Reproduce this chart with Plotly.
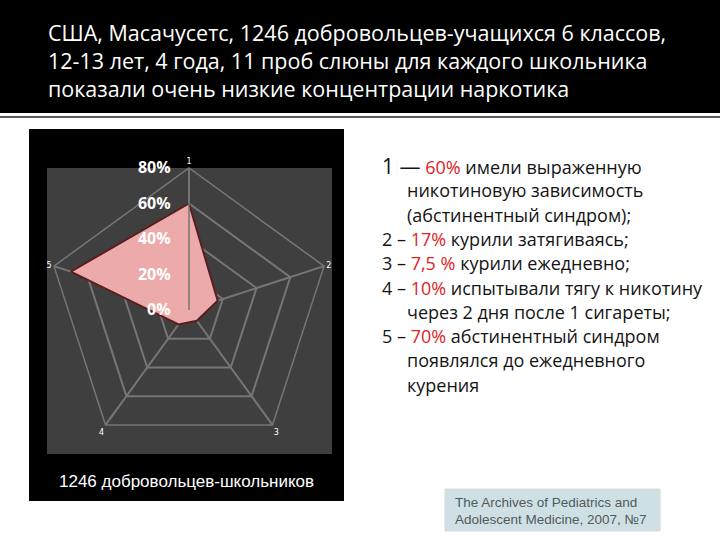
import plotly.graph_objects as go

# ---- data ----
categories = ["1", "2", "3", "4", "5"]
values = [60, 17, 7.5, 10, 70]
radial_ticks = [0, 20, 40, 60, 80]
value_labels = ["60%", "17%", "7,5 %", "10%", "70%"]

title_lines = [
    "США, Масачусетс, 1246 добровольцев-учащихся 6 классов,",
    "12-13 лет, 4 года, 11 проб слюны для каждого школьника",
    "показали очень низкие концентрации наркотика",
]
item_texts = [
    ["имели выраженную", "никотиновую зависимость", "(абстинентный синдром);"],
    ["курили затягиваясь;"],
    ["курили ежедневно;"],
    ["испытывали тягу к никотину", "через 2 дня после 1 сигареты;"],
    ["абстинентный синдром", "появлялся до ежедневного", "курения"],
]
chart_caption = "1246 добровольцев-школьников"
source_lines = ["The Archives of Pediatrics and", "Adolescent Medicine, 2007, №7"]

W, H = 720, 540


def px(x):
    return x / W


def py(y):
    return 1 - y / H


fig = go.Figure()
fig.add_trace(go.Scatterpolar(
    r=values + [values[0]],
    theta=categories + [categories[0]],
    mode="lines",
    fill="toself",
    fillcolor="#edaaaa",
    line=dict(color="#5a1e1e", width=2),
    showlegend=False,
    hoverinfo="skip",
))

grid = "#767676"
fig.update_layout(
    width=W, height=H,
    margin=dict(l=0, r=0, t=0, b=0),
    paper_bgcolor="white",
    plot_bgcolor="white",
    showlegend=False,
    polar=dict(
        domain=dict(x=[px(47), px(331)], y=[py(452), py(168)]),
        bgcolor="rgba(0,0,0,0)",
        gridshape="linear",
        radialaxis=dict(
            range=[0, 80], tickvals=radial_ticks,
            ticktext=[f"{v}%" for v in radial_ticks],
            angle=90, side="counterclockwise", tickangle=90,
            showline=True, linecolor=grid, linewidth=1.5,
            gridcolor=grid, gridwidth=1.5,
            ticks="outside", ticklen=12, tickcolor="rgba(0,0,0,0)",
            tickfont=dict(family="Open Sans", size=16, color="white", weight="bold"),
            layer="above traces",
        ),
        angularaxis=dict(
            direction="clockwise", rotation=90,
            showline=True, linecolor=grid, linewidth=1.5,
            gridcolor=grid, gridwidth=1.5, ticks="",
            tickfont=dict(family="DejaVu Sans", size=8, color="white"),
        ),
    ),
)

shapes = [
    dict(type="rect", xref="paper", yref="paper", x0=0, x1=1, y0=py(113), y1=1,
         fillcolor="black", line=dict(width=0), layer="below"),
    dict(type="line", xref="paper", yref="paper", x0=0, x1=1, y0=py(117), y1=py(117),
         line=dict(color="#5e5e5e", width=2), layer="below"),
    dict(type="rect", xref="paper", yref="paper", x0=px(29), x1=px(344), y0=py(501), y1=py(129),
         fillcolor="black", line=dict(width=0), layer="below"),
    dict(type="rect", xref="paper", yref="paper", x0=px(47), x1=px(332), y0=py(454), y1=py(168),
         fillcolor="#3f3f3f", line=dict(width=0), layer="below"),
    dict(type="rect", xref="paper", yref="paper", x0=px(445), x1=px(660), y0=py(531), y1=py(489),
         fillcolor="#cfe0e4", line=dict(color="#d8d8d8", width=1), layer="below"),
]
fig.update_layout(shapes=shapes)

ann = []
ann.append(dict(x=px(46), y=py(61), xref="paper", yref="paper",
                xanchor="left", yanchor="middle", align="left", showarrow=False,
                text="<br>".join(title_lines),
                font=dict(family="Open Sans", size=21.5, color="white")))

# list on the right
line_y = 166
step = 24.3
for k, (lab, texts) in enumerate(zip(value_labels, item_texts)):
    num = str(k + 1)
    if k == 0:
        prefix = f"<span style='font-size:21px'>{num} —</span> "
    else:
        prefix = f"{num} – "
    first = f"{prefix}<span style='color:#e0231f'>{lab}</span> {texts[0]}"
    ann.append(dict(x=px(380), y=py(line_y), xref="paper", yref="paper",
                    xanchor="left", yanchor="middle", showarrow=False, text=first,
                    font=dict(family="Open Sans", size=18, color="#141414")))
    line_y += step
    for t in texts[1:]:
        ann.append(dict(x=px(405), y=py(line_y), xref="paper", yref="paper",
                        xanchor="left", yanchor="middle", showarrow=False, text=t,
                        font=dict(family="Open Sans", size=18, color="#141414")))
        line_y += step

ann.append(dict(x=px(57), y=py(481), xref="paper", yref="paper",
                xanchor="left", yanchor="middle", showarrow=False, text=chart_caption,
                font=dict(family="Liberation Sans", size=17, color="white")))

for i, t in enumerate(source_lines):
    ann.append(dict(x=px(453), y=py(502 + 17 * i), xref="paper", yref="paper",
                    xanchor="left", yanchor="middle", showarrow=False, text=t,
                    font=dict(family="Liberation Sans", size=13.5, color="#505a5c")))

fig.update_layout(annotations=ann)
fig.write_html("out.html", config={"displayModeBar": False},
               post_script="document.body.style.margin='0';")
